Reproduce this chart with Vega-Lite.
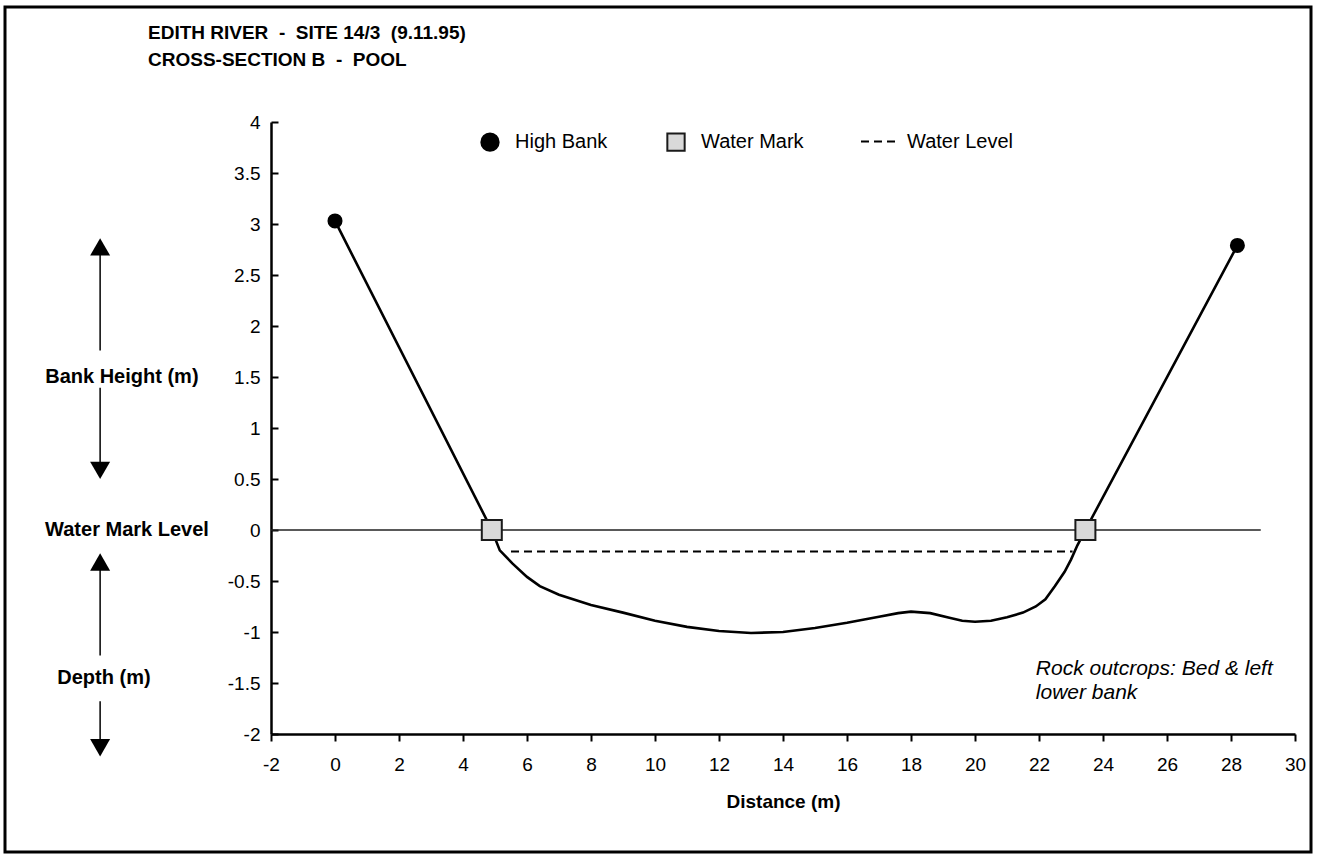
{
  "$schema": "https://vega.github.io/schema/vega-lite/v6.json",
  "autosize": "none",
  "padding": {"left": 5, "top": 7, "right": 7, "bottom": 6},
  "width": 1306,
  "height": 845,
  "background": "white",
  "config": {
    "font": "Liberation Sans",
    "view": {"stroke": "black", "strokeWidth": 3},
    "axis": {"grid": false}
  },
  "title": {
    "text": ["EDITH RIVER \u00a0-\u00a0 SITE 14/3 \u00a0(9.11.95)", "CROSS-SECTION B \u00a0-\u00a0 POOL"],
    "anchor": "start",
    "frame": "group",
    "orient": "top",
    "baseline": "top",
    "offset": -63,
    "dx": 143,
    "fontSize": 19,
    "fontWeight": "bold",
    "font": "Liberation Sans",
    "color": "black",
    "lineHeight": 27
  },
  "datasets": {
    "profile": [
      {"x": 0, "y": 3.03}, {"x": 4.9, "y": 0}, {"x": 5.15, "y": -0.2}, {"x": 5.55, "y": -0.33},
      {"x": 6.0, "y": -0.46}, {"x": 6.4, "y": -0.55}, {"x": 7.0, "y": -0.635}, {"x": 8.0, "y": -0.735},
      {"x": 9.0, "y": -0.81}, {"x": 10.0, "y": -0.89}, {"x": 11.0, "y": -0.95}, {"x": 12.0, "y": -0.99},
      {"x": 13.0, "y": -1.01}, {"x": 14.0, "y": -1.0}, {"x": 15.0, "y": -0.96}, {"x": 16.0, "y": -0.91},
      {"x": 17.0, "y": -0.85}, {"x": 17.6, "y": -0.815}, {"x": 18.0, "y": -0.8}, {"x": 18.6, "y": -0.815},
      {"x": 19.2, "y": -0.86}, {"x": 19.6, "y": -0.89}, {"x": 20.0, "y": -0.9}, {"x": 20.5, "y": -0.89},
      {"x": 21.0, "y": -0.855}, {"x": 21.5, "y": -0.81}, {"x": 21.9, "y": -0.75}, {"x": 22.2, "y": -0.68},
      {"x": 22.5, "y": -0.55}, {"x": 22.8, "y": -0.41}, {"x": 23.0, "y": -0.29}, {"x": 23.2, "y": -0.15},
      {"x": 23.45, "y": 0}, {"x": 28.2, "y": 2.79}
    ],
    "markers": [
      {"x": 0, "y": 3.03, "series": "High Bank"},
      {"x": 28.2, "y": 2.79, "series": "High Bank"},
      {"x": 4.9, "y": 0, "series": "Water Mark"},
      {"x": 23.45, "y": 0, "series": "Water Mark"}
    ],
    "waterLevel": [
      {"x": 5.5, "y": -0.21, "series": "Water Level"},
      {"x": 23.05, "y": -0.21, "series": "Water Level"}
    ],
    "zeroLine": [
      {"x": -2, "y": 0},
      {"x": 28.93, "y": 0}
    ],
    "shafts": [
      {"x": -7.34, "y": 2.7, "y2": 1.76},
      {"x": -7.34, "y": 1.395, "y2": 0.65},
      {"x": -7.34, "y": -0.35, "y2": -1.23},
      {"x": -7.34, "y": -1.68, "y2": -2.1}
    ],
    "headsUp": [
      {"x": -7.34, "y": 2.775},
      {"x": -7.34, "y": -0.314}
    ],
    "headsDown": [
      {"x": -7.34, "y": 0.585},
      {"x": -7.34, "y": -2.135}
    ],
    "sideLabels": [
      {"x": -6.66, "y": 1.5, "label": "Bank Height (m)"},
      {"x": -6.5, "y": 0, "label": "Water Mark Level"},
      {"x": -7.22, "y": -1.45, "label": "Depth (m)"}
    ],
    "note": [
      {"x": 21.9, "y": -1.25, "label": "Rock outcrops: Bed & left\nlower bank"}
    ]
  },
  "layer": [
    {
      "data": {"name": "zeroLine"},
      "mark": {"type": "line", "color": "#222222", "strokeWidth": 1.4},
      "encoding": {
        "x": {"field": "x", "type": "quantitative", "scale": {"domain": [-2, 30], "range": [266, 1290], "nice": false, "zero": false},
          "axis": {
            "orient": "bottom", "offset": -118, "values": [-2, 0, 2, 4, 6, 8, 10, 12, 14, 16, 18, 20, 22, 24, 26, 28, 30],
            "labelExpr": "'' + datum.value", "domainColor": "black", "domainWidth": 2.5, "tickColor": "black", "tickWidth": 2,
            "tickSize": 7, "labelFontSize": 19, "labelColor": "black", "labelPadding": 14, "labelFlush": false, "labelOverlap": false,
            "title": "Distance (m)", "titleFontSize": 19, "titleFontWeight": "bold", "titleColor": "black", "titlePadding": 18
          }},
        "y": {"field": "y", "type": "quantitative", "scale": {"domain": [-2, 4], "range": [727, 115], "nice": false, "zero": false},
          "axis": {
            "orient": "left", "offset": -266, "values": [-2, -1.5, -1, -0.5, 0, 0.5, 1, 1.5, 2, 2.5, 3, 3.5, 4],
            "labelExpr": "'' + datum.value", "domainColor": "black", "domainWidth": 2.5, "tickColor": "black", "tickWidth": 2,
            "tickSize": -7, "labelFontSize": 19, "labelColor": "black", "labelPadding": 18, "labelOverlap": false,
            "title": null
          }}
      }
    },
    {
      "data": {"name": "profile"},
      "mark": {"type": "line", "color": "black", "strokeWidth": 2.6},
      "encoding": {
        "x": {"field": "x", "type": "quantitative"},
        "y": {"field": "y", "type": "quantitative"}
      }
    },
    {
      "data": {"name": "waterLevel"},
      "mark": {"type": "line", "color": "black", "strokeWidth": 2},
      "encoding": {
        "x": {"field": "x", "type": "quantitative"},
        "y": {"field": "y", "type": "quantitative"},
        "strokeDash": {"field": "series", "type": "nominal",
          "scale": {"domain": ["Water Level"], "range": [[8, 5]]},
          "legend": {"title": null, "orient": "none", "legendX": 855, "legendY": 116, "direction": "horizontal",
            "symbolSize": 1225, "symbolStrokeWidth": 2, "symbolStrokeColor": "black", "symbolType": "stroke",
            "labelFontSize": 20, "labelColor": "black", "labelOffset": 10, "padding": 0}}
      }
    },
    {
      "data": {"name": "markers"},
      "mark": {"type": "point", "filled": true, "strokeWidth": 2, "opacity": 1},
      "encoding": {
        "x": {"field": "x", "type": "quantitative"},
        "y": {"field": "y", "type": "quantitative"},
        "shape": {"field": "series", "type": "nominal",
          "scale": {"domain": ["High Bank", "Water Mark"], "range": ["circle", "square"]},
          "legend": {"title": null, "orient": "none", "legendX": 475, "legendY": 125, "direction": "horizontal",
            "symbolSize": 300, "symbolStrokeWidth": 2, "symbolOpacity": 1,
            "labelFontSize": 20, "labelColor": "black", "labelOffset": 15, "columnPadding": 55, "padding": 0}},
        "fill": {"field": "series", "type": "nominal",
          "scale": {"domain": ["High Bank", "Water Mark"], "range": ["black", "#d9d9d9"]}},
        "stroke": {"field": "series", "type": "nominal",
          "scale": {"domain": ["High Bank", "Water Mark"], "range": ["black", "#1a1a1a"]}},
        "size": {"condition": {"test": "datum.series === 'Water Mark'", "value": 400}, "value": 170}
      }
    },
    {
      "data": {"name": "shafts"},
      "mark": {"type": "rule", "color": "black", "strokeWidth": 1.5},
      "encoding": {
        "x": {"field": "x", "type": "quantitative"},
        "y": {"field": "y", "type": "quantitative"},
        "y2": {"field": "y2"}
      }
    },
    {
      "data": {"name": "headsUp"},
      "mark": {"type": "point", "shape": "triangle-up", "filled": true, "color": "black", "size": 400, "opacity": 1},
      "encoding": {
        "x": {"field": "x", "type": "quantitative"},
        "y": {"field": "y", "type": "quantitative"}
      }
    },
    {
      "data": {"name": "headsDown"},
      "mark": {"type": "point", "shape": "triangle-down", "filled": true, "color": "black", "size": 400, "opacity": 1},
      "encoding": {
        "x": {"field": "x", "type": "quantitative"},
        "y": {"field": "y", "type": "quantitative"}
      }
    },
    {
      "data": {"name": "sideLabels"},
      "mark": {"type": "text", "fontSize": 20, "fontWeight": "bold", "color": "black", "align": "center", "baseline": "middle"},
      "encoding": {
        "x": {"field": "x", "type": "quantitative"},
        "y": {"field": "y", "type": "quantitative"},
        "text": {"field": "label"}
      }
    },
    {
      "data": {"name": "note"},
      "mark": {"type": "text", "fontSize": 21, "fontStyle": "italic", "color": "black", "align": "left", "baseline": "top", "lineBreak": "\n", "lineHeight": 24},
      "encoding": {
        "x": {"field": "x", "type": "quantitative"},
        "y": {"field": "y", "type": "quantitative"},
        "text": {"field": "label"}
      }
    }
  ]
}
